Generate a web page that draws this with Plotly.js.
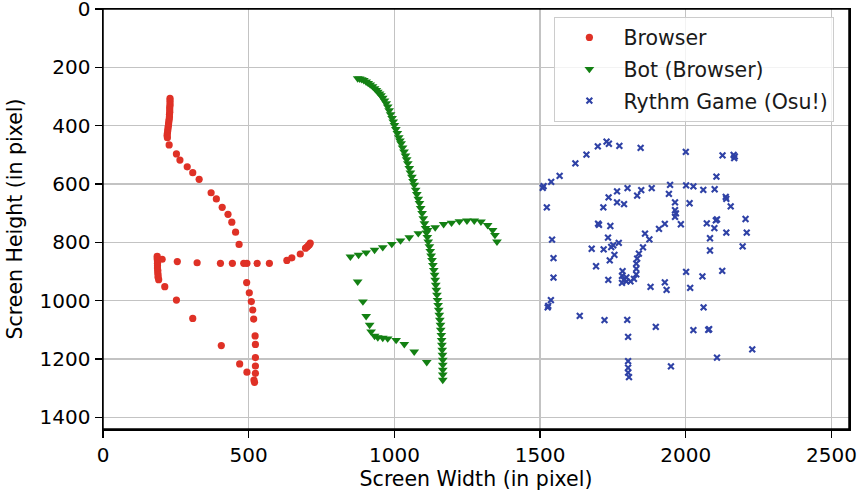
<!DOCTYPE html>
<html>
<head>
<meta charset="utf-8">
<script src="https://cdn.plot.ly/plotly-3.0.1.min.js"></script>
<style>html,body{margin:0;padding:0;background:#fff;}#chart{width:860px;height:496px;}</style>
</head>
<body>
<div id="chart"></div>
<script>
// Browser (human) mouse positions
const browserX = [230,230,230,230,229,229,229,228,228,227,226,225,224,223,222,221,220,221,
  227,252,264,289,308,330,371,389,409,429,442,455,467,
  711,708,704,700,695,677,648,631,
  571,529,494,483,444,403,323,255,203,
  186,186,187,187,187,187,188,188,189,189,191,
  212,252,308,406,
  493,502,509,514,517,522,523,523,523,523,518,520,469,494];
const browserY = [306,314,322,330,338,346,354,362,370,378,386,394,402,410,418,426,434,441,
  466,497,518,541,561,584,630,651,680,704,731,765,807,
  803,808,812,816,820,840,853,862,
  872,872,872,872,872,872,870,866,858,
  848,856,864,872,880,888,896,904,912,920,928,
  952,998,1061,1154,
  938,973,1003,1032,1063,1121,1150,1195,1224,1249,1272,1280,1217,1245];

// Bot (Browser) mouse positions
const botX = [874,881,888,895,903,910,917,925,932,938,943,949,954,960,966,972,977,982,987,992,996,1000,
  1005,1010,1015,1019,1023,1028,1033,1038,1042,1046,1051,1055,1060,1064,1068,1073,1077,1082,1086,
  1090,1095,1099,1103,1107,1110,1113,1116,1120,1123,1126,1129,1132,1135,1138,1140,1142,1144,1146,
  1148,1150,1152,1154,1156,1158,1159,1161,1162,1163,1164,1165,1166,1166,1166,1166,1166,
  849,877,903,932,960,991,1021,1051,1082,1114,1140,1169,1196,1223,1249,1274,1297,1320,1337,1345,1352,
  874,892,903,915,920,932,943,960,977,1006,1034,1068,1111];
const botY = [238,239,241,244,249,254,259,265,272,278,284,290,296,305,314,324,335,348,361,374,386,398,
  412,426,440,451,461,475,489,503,516,529,546,561,576,590,603,620,635,651,666,
  683,700,718,735,751,767,782,798,814,830,846,861,878,895,912,929,946,963,980,
  998,1015,1032,1049,1066,1083,1100,1118,1135,1152,1169,1186,1203,1220,1237,1254,1272,
  849,843,835,826,817,806,794,783,769,758,749,738,733,728,726,726,729,741,758,775,798,
  935,1003,1053,1083,1106,1121,1126,1128,1130,1135,1149,1175,1211];

// Rythm Game (Osu!) cursor positions
const osuX = [1509,1512,1538,1567,1621,1659,1698,1728,1736,1772,1845,2000,2126,2164,2166,2168,2105,1523,1541,1546,
  1546,1537,1526,1528,1636,1721,1799,1802,1897,2026,2077,2080,2061,2107,2228,1949,1802,1802,1802,1805,
  1734,1692,1677,1718,1733,1739,1744,1751,1755,1770,1699,1702,1741,1717,1735,1764,1764,1788,1800,1833,
  1847,1883,1946,1942,1963,1963,1966,1963,1983,1928,1908,1860,1875,1853,1839,1833,1830,1830,1830,1822,
  1810,1796,1787,1781,1783,1781,1796,1879,1928,1934,2001,2015,2057,2125,2083,2083,2072,2098,2103,2107,
  2139,2154,2137,2139,2099,2060,2026,2001,2013,2205,2209,2195];
const osuY = [613,607,593,572,529,499,471,455,462,469,476,490,502,500,511,505,575,680,791,854,
  921,998,1023,1018,1052,1067,1066,1124,1090,1101,1100,1098,1023,1195,1167,1225,1207,1230,1247,1262,
  929,882,822,824,784,862,816,810,843,802,736,740,744,680,646,625,663,669,614,640,
  621,614,603,634,663,690,701,713,738,737,754,770,790,817,839,856,873,891,910,925,
  934,934,929,915,899,939,920,953,937,963,901,956,917,898,828,786,735,751,725,721,
  767,677,644,651,618,620,608,605,666,720,767,814];

const seriesNames = ['Browser', 'Bot (Browser)', 'Rythm Game (Osu!)'];
const xTicks = [0, 500, 1000, 1500, 2000, 2500];
const yTicks = [0, 200, 400, 600, 800, 1000, 1200, 1400];

const FONT = 'DejaVu Sans, sans-serif';

const traces = [
  {x: browserX, y: browserY, name: seriesNames[0], type: 'scatter', mode: 'markers', legendgroup: 'a',
   marker: {symbol: 'circle', size: 7.2, color: '#df3126'}},
  {x: botX, y: botY, name: seriesNames[1], type: 'scatter', mode: 'markers', legendgroup: 'b',
   marker: {symbol: 'triangle-down', size: 8.5, color: '#138013'}},
  {x: osuX, y: osuY, name: seriesNames[2], type: 'scatter', mode: 'markers', legendgroup: 'c',
   marker: {symbol: 'x-thin', size: 5.8, color: '#2f42a6', line: {color: '#2f42a6', width: 2.1}}}
];

const axisCommon = {
  showline: true, linecolor: '#000', linewidth: 1.5, mirror: true,
  ticks: 'outside', ticklen: 7, tickwidth: 1.3, tickcolor: '#000',
  showgrid: true, gridcolor: '#c3c3c3', gridwidth: 1.3,
  zeroline: false, automargin: false, ticklabeloverflow: 'allow',
  tickfont: {family: FONT, size: 20, color: '#000'}
};

const layout = {
  width: 860, height: 496,
  margin: {l: 103, r: 11, t: 9, b: 67},
  paper_bgcolor: '#fff', plot_bgcolor: '#fff',
  font: {family: FONT, color: '#000'},
  showlegend: true,
  xaxis: Object.assign({}, axisCommon, {
    range: [0, 2560], tickvals: xTicks, ticktext: xTicks.map(String),
    title: {text: 'Screen Width (in pixel)', font: {family: FONT, size: 20.5, color: '#000'}, standoff: 6}
  }),
  yaxis: Object.assign({}, axisCommon, {
    range: [1440, 0], tickvals: yTicks, ticktext: yTicks.map(String),
    title: {text: 'Screen Height (in pixel)', font: {family: FONT, size: 20.5, color: '#000'}, standoff: 11}
  }),
  shapes: [
    {type: 'rect', xref: 'paper', yref: 'paper', x0: 0, x1: 1, y0: 0, y1: 1,
     line: {color: '#000', width: 1.5}, fillcolor: 'rgba(0,0,0,0)', layer: 'above'}
  ],
  legend: {
    x: 0.9804, xanchor: 'right', y: 0.982, yanchor: 'top',
    bgcolor: 'rgba(255,255,255,0.8)', bordercolor: '#cccccc', borderwidth: 1,
    font: {family: FONT, size: 20.5, color: '#1a1a1a'},
    itemwidth: 58, tracegroupgap: 2
  }
};

Plotly.newPlot('chart', traces, layout, {displayModeBar: false, staticPlot: true});
</script>
</body>
</html>
